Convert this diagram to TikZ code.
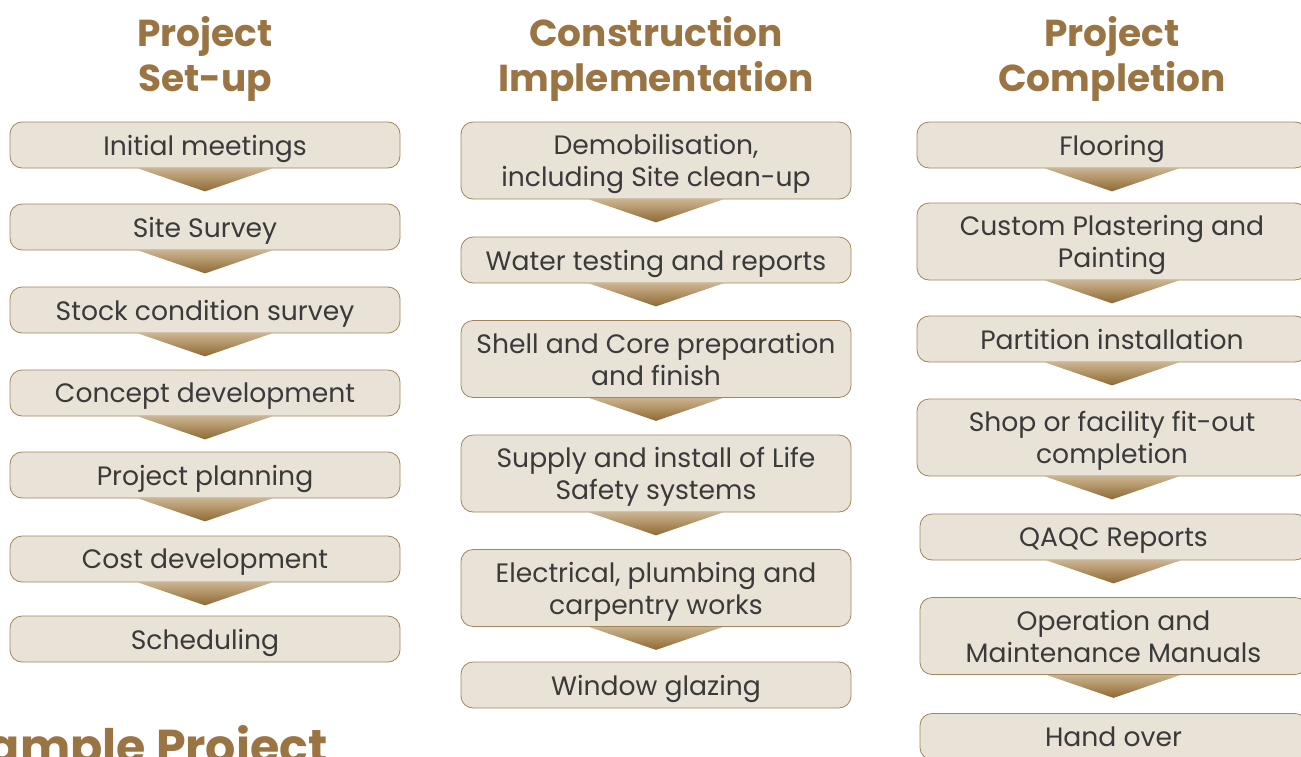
\documentclass[tikz,border=0pt]{standalone}
\usepackage{fontspec}
\setmainfont{Poppins}
\usepackage{tikz}
\usetikzlibrary{calc,backgrounds}

\definecolor{headbrown}{HTML}{9A7443}
\definecolor{boxfill}{HTML}{E8E2D7}
\definecolor{boxline}{HTML}{A3855A}
\definecolor{tritop}{HTML}{CBB38F}
\definecolor{tribot}{HTML}{8E6933}
\definecolor{textgray}{HTML}{3A3A3A}

\tikzset{
  stagebox/.style={draw=boxline,line width=0.8bp,fill=boxfill,rounded corners=12bp,
    minimum width=390bp,minimum height=46bp,align=center,text=textgray,
    font=\fontsize{26.6bp}{32bp}\selectfont,inner sep=0pt,text depth=0pt},
  twoline/.style={minimum height=77bp},
  heading/.style={text=headbrown,align=center,font=\fontsize{37.5bp}{45bp}\selectfont\bfseries},
}

% shaded chevron under a box
\newcommand{\downtri}[1]{%
  \begin{scope}[on background layer]
  \shade[top color=tritop,bottom color=tribot]
    ($(#1.south)+(-67bp,0)$) -- ($(#1.south)+(67bp,0)$) -- ($(#1.south)+(0,-23bp)$) -- cycle;
  \end{scope}}

\begin{document}
\begin{tikzpicture}
\useasboundingbox (0,0) rectangle (1301bp,-757bp);
\clip (0,0) rectangle (1301bp,-757bp);

\node (H1) at (205bp,-59bp)[heading] {Project\\Set-up};
\node (H2) at (656bp,-59bp)[heading] {Construction\\Implementation};
\node (H3) at (1112bp,-59bp)[heading] {Project\\Completion};

\node (S1) at (205bp,-145bp)[stagebox] {Initial meetings};
\node (S2) at (205bp,-227bp)[stagebox] {Site Survey};
\node (S3) at (205bp,-310bp)[stagebox] {Stock condition survey};
\node (S4) at (205bp,-393bp)[stagebox] {Concept development};
\node (S5) at (205bp,-475bp)[stagebox] {Project planning};
\node (S6) at (205bp,-559bp)[stagebox] {Cost development};
\node (S7) at (205bp,-639bp)[stagebox] {Scheduling};

\node (C1) at (656bp,-160.5bp)[stagebox,twoline] {Demobilisation,\\including Site clean-up};
\node (C2) at (656bp,-260bp)[stagebox] {Water testing and reports};
\node (C3) at (656bp,-359bp)[stagebox,twoline] {Shell and Core preparation\\and finish};
\node (C4) at (656bp,-473.5bp)[stagebox,twoline] {Supply and install of Life\\Safety systems};
\node (C5) at (656bp,-588bp)[stagebox,twoline] {Electrical, plumbing and\\carpentry works};
\node (C6) at (656bp,-685bp)[stagebox] {Window glazing};

\node (P1) at (1112bp,-145bp)[stagebox] {Flooring};
\node (P2) at (1112bp,-241.5bp)[stagebox,twoline] {Custom Plastering and\\Painting};
\node (P3) at (1112bp,-339bp)[stagebox] {Partition installation};
\node (P4) at (1112bp,-437.5bp)[stagebox,twoline] {Shop or facility fit-out\\completion};
\node (P5) at (1113.5bp,-537bp)[stagebox,minimum width=387bp] {QAQC Reports};
\node (P6) at (1113.5bp,-636bp)[stagebox,twoline,minimum width=387bp] {Operation and\\Maintenance Manuals};
\node (P7) at (1113.5bp,-736.5bp)[stagebox,minimum width=387bp] {Hand over};

\foreach \n in {S1,S2,S3,S4,S5,S6,C1,C2,C3,C4,C5,P1,P2,P3,P4,P5,P6}
  {\downtri{\n}}

\node (T) at (331bp,-763bp)[anchor=base east,text=headbrown,
  font=\fontsize{47.5bp}{52bp}\selectfont\bfseries] {Example Project};
\end{tikzpicture}
\end{document}
